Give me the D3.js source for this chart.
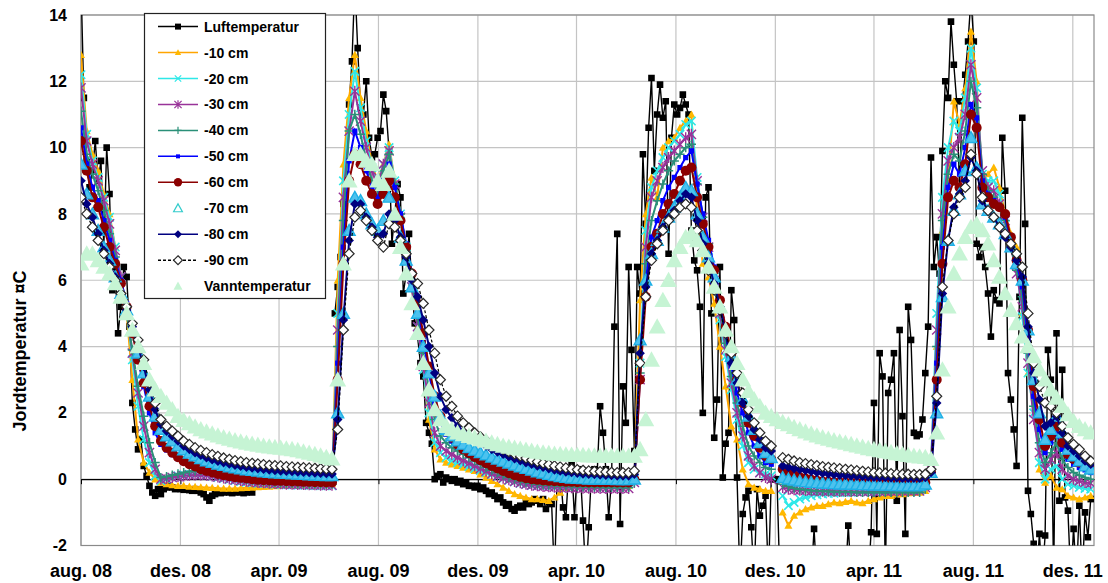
<!DOCTYPE html>
<html><head><meta charset="utf-8">
<script src="https://cdn.jsdelivr.net/npm/d3@7"></script>
<style>
body{margin:0;background:#fff}
svg{display:block}
text{font-family:"Liberation Sans",Arial,sans-serif;font-weight:bold;fill:#000}
</style>
</head><body>
<svg id="c" width="1108" height="583"></svg>
<script>
// ---------- axis data ----------
const startDate = new Date(2008, 7, 1);
const endDate = new Date(2011, 11, 27);
const tickDates = ["2008-08-01","2008-12-01","2009-04-01","2009-08-01","2009-12-01","2010-04-01","2010-08-01","2010-12-01","2011-04-01","2011-08-01","2011-12-01"];
const tickLabels = ["aug. 08","des. 08","apr. 09","aug. 09","des. 09","apr. 10","aug. 10","des. 10","apr. 11","aug. 11","des. 11"];
const yTicks = [-2, 0, 2, 4, 6, 8, 10, 12, 14];
const seriesNames = ["Luftemperatur","-10 cm","-20 cm","-30 cm","-40 cm","-50 cm","-60 cm","-70 cm","-80 cm","-90 cm","Vanntemperatur"];
const yTitle = "Jordtemperatur ¤C";

// ---------- series values ----------
// Luftemperatur: one value every 3.5 days from 1 Aug 2008 (null = missing)
const luft = [
15,11.5,9.6,8.8,9.3,10.2,9.0,9.6,7.0,10.0,
8.6,5.7,6.4,4.4,5.2,6.4,6.1,4.6,2.3,1.5,
0.9,1.2,0.4,0.1,-0.2,-0.4,-0.5,-0.3,-0.45,-0.3,
-0.25,-0.2,-0.25,-0.3,-0.28,-0.3,-0.32,-0.3,-0.33,-0.35,
-0.3,-0.35,-0.4,-0.45,-0.55,-0.65,-0.5,-0.45,-0.4,-0.42,
-0.4,-0.38,-0.4,-0.42,-0.4,-0.38,-0.4,-0.42,-0.4,-0.38,
-0.4,null,null,null,null,null,null,null,null,null,
null,null,null,null,null,null,null,null,null,null,
null,null,null,null,null,null,null,null,null,5.0,
5.8,6.7,8.3,9.2,11.3,12.6,15,13.0,11.2,11.0,
12.0,10.3,9.7,9.8,10.3,10.5,11.6,11.1,9.9,7.1,
8.0,8.9,8.5,5.6,6.2,7.4,5.8,4.7,4.3,3.5,
3.1,1.7,1.4,1.07,0.0,0.1,0.15,-0.1,0.05,0.0,
-0.05,0.0,-0.1,-0.05,-0.15,-0.1,-0.2,-0.2,-0.25,-0.2,
-0.3,-0.25,-0.35,-0.45,-0.4,-0.5,-0.6,-0.55,-0.7,-0.8,
-0.75,-0.9,-0.95,-0.85,-0.8,-0.85,-0.7,-0.75,-0.7,-0.6,
-0.65,-0.75,-0.6,-0.9,-0.7,-0.75,-3,0.3,0.25,-0.85,
-1.15,0.3,0.45,-1.15,0.25,0.3,-1.25,-3,-1.45,0.25,
0.3,0.25,2.2,1.4,0.3,-1.15,0.0,4.6,7.4,-1.35,
2.8,1.7,6.4,3.9,0.85,6.4,5.6,9.8,7.7,10.6,
12.1,9.3,11.0,11.9,10.9,11.4,6.8,10.3,11.3,11.0,
11.2,11.6,11.3,11.0,7.5,6.6,6.3,5.2,2.0,8.5,
8.8,5.0,1.25,2.4,6.4,0.05,1.07,1.4,5.7,4.8,
0.05,-3,-1.05,-0.55,-0.35,-1.45,-3,-0.3,-1.1,-0.8,
-0.5,-3,0,0,0,-3,null,null,null,null,
null,null,null,null,null,null,-3,-1.5,-3,null,
null,null,null,null,null,null,null,null,-3,-1.4,
-3,null,null,null,null,null,-3,-1.6,2.3,-1.65,
3.8,3.1,-3,2.6,3.0,3.8,-0.65,4.5,1.9,-1.65,
5.2,4.2,1.4,1.3,1.35,1.8,3.2,4.6,9.7,6.4,
7.3,6.2,9.9,12.0,11.5,13.8,12.5,11.4,8.8,11.4,
12.2,13.2,14.5,13.2,7.1,6.7,7.0,6.4,5.6,4.3,
5.7,5.4,5.3,10.3,8.7,3.2,2.4,1.5,0.4,5.5,
10.9,7.7,-0.35,-1.05,-1.95,-3,-1.65,-3,-1.7,3.9,
3.0,-3,4.4,-0.65,3.3,-0.55,-0.95,-3,-1.5,-3,
-0.8,-3,-1.0,-1.75,-0.6,null
];

// Soil and water: one value every 7 days from 1 Aug 2008
const soil10 = [
12.8,10.5,9.8,9.3,8.6,8.0,7.0,6.0,5.0,3.0,
1.2,0.5,0.2,0.0,-0.1,-0.15,-0.18,-0.2,-0.2,-0.22,
-0.23,-0.24,-0.25,-0.26,-0.27,-0.28,-0.28,-0.28,-0.27,-0.26,
-0.25,-0.24,-0.23,-0.22,-0.21,-0.2,-0.2,-0.19,-0.19,-0.18,
-0.18,-0.18,-0.17,-0.17,-0.15,
6.0,9.5,11.5,12.8,11.5,10.5,9.5,9.0,9.5,10.1,
9.0,8.0,7.0,5.8,4.6,3.4,1.8,0.9,0.6,0.5,
0.45,0.4,0.35,0.3,0.25,0.15,0.05,-0.05,-0.15,-0.25,
-0.35,-0.45,-0.5,-0.55,-0.6,-0.6,-0.62,-0.65,-0.55,-0.4,
-0.25,-0.2,-0.2,-0.2,-0.2,-0.2,-0.2,-0.2,-0.2,-0.2,
-0.2,-0.2,0.0,
5.4,8.0,9.1,8.5,10.0,10.2,10.3,10.6,10.8,11.0,
8.0,6.5,6.1,5.3,4.0,2.8,1.6,1.2,0.3,-0.15,
-0.25,-0.3,-0.35,-0.35,
null,
-1.0,-1.4,-1.1,-1.0,-0.9,-0.85,-0.8,-0.8,-0.75,-0.7,
-0.72,-0.68,-0.65,-0.7,-0.72,-0.65,-0.6,-0.55,-0.5,-0.5,
-0.45,-0.45,-0.42,-0.4,-0.4,-0.35,
0.5,4.0,7.5,9.0,11.4,10.7,11.8,13.5,12.0,9.0,
9.2,9.4,8.8,8.0,7.4,7.0,5.0,3.2,2.7,0.3,
-0.1,0.1,-0.25,-0.3,-0.5,-0.55,-0.6,-0.55,-0.5
];
const soil20 = [
12.2,10.4,9.6,9.1,8.5,7.9,7.0,6.1,5.1,3.6,
2.2,1.2,0.5,0.1,-0.05,0.0,0.05,0.1,0.13,0.15,
0.15,0.14,0.12,0.09,0.05,0.02,-0.01,-0.04,-0.07,-0.09,
-0.11,-0.12,-0.13,-0.14,-0.15,-0.16,-0.17,-0.17,-0.18,-0.18,
-0.19,-0.19,-0.2,-0.2,-0.2,
5.0,9.0,11.0,12.3,11.2,10.2,9.4,8.9,9.5,10.0,
9.0,8.0,7.0,5.8,4.6,3.3,2.0,1.1,0.8,0.65,
0.56,0.5,0.44,0.38,0.32,0.26,0.2,0.14,0.08,0.02,
-0.03,-0.08,-0.12,-0.15,-0.18,-0.2,-0.2,-0.2,-0.19,-0.18,
-0.17,-0.16,-0.16,-0.15,-0.15,-0.15,-0.15,-0.15,-0.15,-0.15,
-0.15,-0.15,0.0,
3.5,7.5,8.8,9.3,9.7,10.0,10.2,10.4,10.7,10.8,
9.1,7.9,6.9,5.9,4.8,3.7,2.7,1.8,1.0,0.5,
0.3,0.2,0.15,0.1,
null,
-0.5,-0.8,-0.7,-0.6,-0.55,-0.5,-0.47,-0.45,-0.43,-0.42,
-0.4,-0.4,-0.39,-0.38,-0.37,-0.36,-0.36,-0.35,-0.35,-0.34,
-0.33,-0.33,-0.32,-0.32,-0.31,-0.2,
0.4,5.0,8.5,10.0,10.8,10.5,11.5,13.0,11.8,9.2,
9.0,9.0,8.6,7.9,7.2,6.5,4.9,3.2,2.0,0.5,
0.0,0.3,0.4,0.0,-0.15,-0.2,-0.25,-0.28,-0.3
];
const soil30 = [
11.8,10.2,9.5,9.0,8.4,7.7,6.9,6.1,5.1,3.8,
2.6,1.6,0.8,0.3,0.0,0.02,0.05,0.08,0.1,0.12,
0.13,0.13,0.12,0.1,0.07,0.04,0.01,-0.02,-0.04,-0.06,
-0.08,-0.1,-0.11,-0.12,-0.13,-0.14,-0.15,-0.15,-0.16,-0.16,
-0.17,-0.17,-0.18,-0.18,-0.18,
4.5,8.5,10.5,11.7,10.8,10.0,9.3,8.8,9.5,9.9,
8.9,7.9,6.9,5.8,4.6,3.4,2.3,1.4,1.0,0.85,
0.75,0.65,0.56,0.48,0.4,0.32,0.24,0.16,0.09,0.03,
-0.02,-0.07,-0.11,-0.15,-0.18,-0.2,-0.22,-0.23,-0.24,-0.25,
-0.25,-0.26,-0.26,-0.27,-0.27,-0.27,-0.28,-0.28,-0.28,-0.28,
-0.28,-0.28,-0.1,
3.0,7.0,8.5,9.0,9.4,9.7,9.9,10.1,10.3,10.4,
9.0,7.9,7.0,6.0,5.0,3.9,2.9,2.0,1.3,0.7,
0.4,0.2,0.05,0.0,
null,
-0.25,-0.3,-0.32,-0.33,-0.34,-0.35,-0.35,-0.36,-0.36,-0.36,
-0.37,-0.37,-0.37,-0.37,-0.37,-0.37,-0.37,-0.37,-0.36,-0.36,
-0.36,-0.36,-0.35,-0.35,-0.35,-0.25,
0.3,4.5,8.0,9.6,10.0,10.3,11.0,12.5,11.5,9.3,
8.8,8.7,8.3,7.8,7.0,6.2,5.2,3.5,1.8,0.8,
0.3,0.6,0.8,0.3,0.1,0.0,-0.05,-0.1,-0.12
];
const soil40 = [
11.1,9.8,9.2,8.7,8.1,7.4,6.7,5.9,5.0,3.9,
2.8,1.9,1.1,0.5,0.05,0.08,0.12,0.16,0.2,0.23,
0.25,0.26,0.25,0.22,0.18,0.14,0.1,0.06,0.03,0.0,
-0.02,-0.04,-0.06,-0.08,-0.1,-0.11,-0.12,-0.13,-0.14,-0.14,
-0.15,-0.15,-0.16,-0.16,-0.15,
4.0,7.8,10.5,11.0,10.4,9.6,9.0,8.7,9.3,9.8,
8.9,8.0,7.0,6.0,4.9,3.8,2.7,1.8,1.3,1.1,
0.95,0.85,0.75,0.65,0.55,0.45,0.35,0.27,0.2,0.12,
0.05,0.0,-0.05,-0.1,-0.12,-0.15,-0.17,-0.18,-0.19,-0.2,
-0.21,-0.22,-0.22,-0.23,-0.23,-0.24,-0.24,-0.25,-0.25,-0.25,
-0.25,-0.25,-0.1,
3.2,6.5,7.8,8.4,8.9,9.3,9.6,9.8,10.0,10.1,
8.9,7.9,7.1,6.2,5.2,4.1,3.1,2.3,1.6,1.0,
0.7,0.5,0.35,0.3,
null,
-0.15,-0.22,-0.27,-0.3,-0.32,-0.34,-0.35,-0.36,-0.37,-0.38,
-0.38,-0.39,-0.39,-0.4,-0.4,-0.4,-0.4,-0.4,-0.4,-0.4,
-0.4,-0.4,-0.4,-0.4,-0.4,-0.3,
0.2,4.0,7.8,9.2,9.8,9.6,10.5,12.0,11.2,9.2,
8.7,8.5,8.2,7.8,7.0,6.3,5.5,3.8,2.2,1.1,
0.5,0.8,1.1,0.6,0.35,0.2,0.12,0.05,0.0
];
const soil50 = [
10.6,9.5,8.8,8.4,7.8,7.2,6.6,6.0,5.3,4.5,
3.6,2.8,2.0,1.4,1.05,0.88,0.74,0.62,0.5,0.41,
0.34,0.27,0.22,0.17,0.13,0.09,0.06,0.03,0.01,-0.01,
-0.03,-0.04,-0.05,-0.06,-0.07,-0.08,-0.08,-0.09,-0.1,-0.1,
-0.11,-0.11,-0.12,-0.12,-0.12,
3.5,7.0,9.6,10.5,10.0,9.3,8.8,8.5,9.0,9.5,
8.8,8.0,7.1,6.2,5.2,4.2,3.2,2.3,1.7,1.35,
1.15,0.98,0.84,0.72,0.62,0.52,0.43,0.35,0.28,0.21,
0.14,0.09,0.04,0.0,-0.03,-0.05,-0.07,-0.08,-0.09,-0.1,
-0.11,-0.11,-0.12,-0.12,-0.12,-0.13,-0.13,-0.13,-0.13,-0.13,
-0.13,-0.13,0.0,
3.5,6.0,7.3,7.8,8.4,8.8,9.1,9.4,9.7,9.9,
8.9,8.0,7.2,6.4,5.4,4.4,3.4,2.6,2.0,1.4,
1.0,0.7,0.5,0.45,
null,
0.15,0.08,0.02,-0.02,-0.05,-0.08,-0.1,-0.11,-0.12,-0.13,
-0.14,-0.14,-0.15,-0.15,-0.16,-0.16,-0.17,-0.17,-0.17,-0.18,
-0.18,-0.18,-0.18,-0.18,-0.18,-0.12,
0.3,3.5,7.0,8.8,9.5,9.2,10.0,11.3,10.9,9.0,
8.6,8.4,8.2,7.9,7.2,6.5,5.8,4.2,2.5,1.5,
0.8,1.1,1.4,0.9,0.6,0.45,0.35,0.28,0.2
];
const soil60 = [
10.2,9.3,8.5,8.2,7.6,7.0,6.5,5.9,5.2,4.4,
3.6,2.9,2.2,1.6,1.15,0.95,0.8,0.66,0.54,0.45,
0.38,0.3,0.25,0.2,0.16,0.12,0.09,0.06,0.04,0.02,
0.0,-0.02,-0.03,-0.04,-0.05,-0.05,-0.06,-0.07,-0.07,-0.08,
-0.08,-0.09,-0.09,-0.1,-0.1,
3.0,6.5,9.0,9.8,9.5,9.0,8.6,8.3,8.6,9.0,
8.5,7.8,7.0,6.2,5.3,4.4,3.4,2.5,1.9,1.5,
1.25,1.05,0.9,0.78,0.67,0.57,0.48,0.4,0.32,0.25,
0.18,0.12,0.07,0.03,0.0,-0.02,-0.04,-0.05,-0.06,-0.07,
-0.08,-0.08,-0.09,-0.09,-0.1,-0.1,-0.1,-0.1,-0.1,-0.1,
-0.1,-0.1,0.0,
3.0,5.5,7.0,7.4,8.0,8.3,8.6,9.0,9.3,9.4,
8.5,7.7,7.0,6.3,5.4,4.6,3.8,3.0,2.3,1.7,
1.3,0.95,0.7,0.6,
null,
0.3,0.2,0.12,0.06,0.02,-0.02,-0.05,-0.07,-0.08,-0.09,
-0.1,-0.1,-0.11,-0.11,-0.12,-0.12,-0.12,-0.13,-0.13,-0.13,
-0.14,-0.14,-0.14,-0.15,-0.15,-0.1,
0.2,3.0,6.5,8.5,9.0,8.8,9.5,11.0,10.6,8.8,
8.5,8.3,8.2,8.0,7.3,6.6,6.0,4.5,2.8,1.8,
1.0,1.3,1.6,1.1,0.75,0.6,0.5,0.4,0.3
];
const soil70 = [
9.5,8.6,8.0,7.5,7.0,6.6,6.1,5.6,5.1,4.5,
3.8,3.2,2.5,1.9,1.5,1.3,1.15,1.0,0.88,0.78,
0.7,0.62,0.55,0.5,0.45,0.41,0.37,0.34,0.31,0.28,
0.26,0.24,0.22,0.2,0.19,0.18,0.17,0.16,0.15,0.14,
0.13,0.12,0.11,0.1,0.1,
2.0,5.0,7.5,8.5,8.4,8.0,7.7,7.5,7.8,8.5,
8.0,7.3,6.6,5.8,5.0,4.0,3.2,2.5,1.9,1.5,
1.3,1.15,1.05,0.95,0.87,0.8,0.73,0.66,0.6,0.54,
0.48,0.42,0.37,0.32,0.27,0.22,0.18,0.14,0.1,0.07,
0.05,0.03,0.02,0.01,0.0,0.0,0.0,-0.01,-0.01,-0.02,
-0.02,-0.02,0.0,
4.2,6.0,6.8,7.2,7.6,7.9,8.2,8.5,8.8,8.7,
8.0,7.3,6.7,6.1,5.2,4.5,3.7,3.0,2.4,1.9,
1.5,1.1,0.8,0.65,
null,
0.05,0.0,-0.03,-0.06,-0.08,-0.1,-0.11,-0.12,-0.13,-0.14,
-0.15,-0.15,-0.16,-0.16,-0.17,-0.17,-0.18,-0.18,-0.19,-0.19,
-0.2,-0.2,-0.2,-0.2,-0.2,-0.15,
0.2,2.0,5.5,7.2,8.1,8.6,9.3,10.3,9.4,8.3,
8.1,7.9,7.7,7.4,7.0,6.5,6.0,4.5,3.0,2.0,
1.2,1.5,1.9,1.4,0.9,0.7,0.55,0.4,0.3
];
const soil80 = [
9.0,8.3,7.9,7.4,6.9,6.5,6.1,5.6,5.1,4.6,
4.0,3.4,2.7,2.1,1.65,1.45,1.3,1.15,1.0,0.9,
0.8,0.72,0.65,0.59,0.54,0.5,0.46,0.42,0.39,0.36,
0.34,0.32,0.3,0.28,0.26,0.25,0.24,0.23,0.22,0.21,
0.2,0.19,0.18,0.17,0.16,
1.8,4.8,7.2,8.3,8.3,7.9,7.6,7.3,7.4,8.0,
7.8,7.3,6.7,6.0,5.5,4.8,4.0,3.2,2.5,2.1,
1.85,1.6,1.45,1.32,1.2,1.1,1.0,0.9,0.82,0.75,
0.68,0.62,0.56,0.5,0.45,0.4,0.36,0.32,0.28,0.25,
0.22,0.2,0.18,0.16,0.15,0.14,0.13,0.12,0.11,0.1,
0.1,0.1,0.15,
3.8,5.8,6.8,7.2,7.6,7.9,8.1,8.4,8.6,8.5,
7.8,7.1,6.5,5.9,5.2,4.4,3.5,2.9,2.3,1.9,
1.5,1.2,0.95,0.85,
null,
0.4,0.36,0.32,0.29,0.26,0.23,0.2,0.18,0.16,0.14,
0.12,0.11,0.1,0.09,0.08,0.07,0.06,0.05,0.05,0.04,
0.04,0.03,0.03,0.03,0.03,0.05,
0.2,2.3,5.6,7.2,8.2,8.6,9.0,9.7,9.3,8.4,
8.1,7.9,7.6,7.3,7.0,6.6,6.1,4.6,3.2,2.4,
1.6,1.7,1.9,1.4,1.0,0.85,0.7,0.55,0.45
];
const soil90 = [
8.5,8.0,7.6,7.2,6.8,6.4,6.0,5.6,5.2,4.7,
4.2,3.6,2.9,2.3,1.8,1.6,1.45,1.3,1.15,1.05,
0.95,0.87,0.8,0.74,0.69,0.64,0.6,0.56,0.53,0.5,
0.48,0.46,0.44,0.42,0.41,0.4,0.38,0.37,0.36,0.35,
0.34,0.33,0.32,0.31,0.3,
1.5,4.5,6.8,7.9,8.1,7.8,7.5,7.2,7.0,7.7,
7.6,7.2,6.8,6.2,5.9,5.3,4.5,3.8,3.0,2.5,
2.2,1.9,1.7,1.55,1.4,1.28,1.17,1.07,0.98,0.9,
0.83,0.76,0.7,0.64,0.58,0.53,0.48,0.44,0.4,0.37,
0.34,0.31,0.29,0.27,0.25,0.24,0.23,0.22,0.21,0.2,
0.2,0.2,0.25,
3.5,5.5,6.6,7.1,7.5,7.8,8.0,8.2,8.3,8.2,
7.5,6.9,6.3,5.7,5.1,4.4,3.8,3.2,2.6,2.1,
1.7,1.4,1.15,1.0,
null,
0.65,0.6,0.55,0.5,0.47,0.44,0.41,0.38,0.36,0.34,
0.32,0.3,0.28,0.26,0.24,0.22,0.2,0.19,0.18,0.17,
0.16,0.15,0.15,0.14,0.14,0.15,
0.3,2.5,5.8,7.2,8.0,8.5,8.8,9.8,9.2,8.5,
8.1,7.9,7.6,7.4,7.1,6.8,6.4,5.0,3.5,2.8,
2.3,2.2,2.0,1.6,1.25,1.05,0.9,0.7,0.55
];
const vann = [
6.5,6.8,6.8,6.6,6.4,6.2,5.9,5.5,5.0,4.5,
4.0,3.5,3.0,2.7,2.5,2.3,2.1,1.9,1.78,1.68,
1.58,1.5,1.43,1.37,1.31,1.26,1.21,1.17,1.13,1.09,
1.06,1.03,1.0,0.98,0.96,0.94,0.92,0.9,0.87,0.83,
0.79,0.75,0.71,0.66,0.62,
3.0,6.5,9.0,9.8,9.8,9.6,9.5,9.0,8.9,9.3,
8.0,7.0,6.2,5.3,4.4,3.5,2.7,2.1,1.8,1.6,
1.5,1.4,1.35,1.3,1.25,1.2,1.15,1.1,1.05,1.0,
0.97,0.94,0.91,0.88,0.85,0.82,0.8,0.78,0.76,0.75,
0.74,0.73,0.72,0.72,0.71,0.71,0.7,0.7,0.7,0.7,
0.7,0.7,0.7,
0.9,1.8,3.6,4.6,5.4,6.0,6.6,7.0,7.3,7.4,
7.2,6.9,6.4,5.8,5.2,4.5,4.0,3.5,3.0,2.65,
2.4,2.2,2.0,1.9,
1.8,
1.72,1.65,1.57,1.5,1.43,1.37,1.31,1.26,1.21,1.17,
1.13,1.09,1.05,1.01,0.97,0.93,0.9,0.87,0.84,0.81,
0.78,0.75,0.72,0.7,0.68,0.66,
0.6,1.4,3.3,5.2,6.2,6.8,7.3,7.6,7.7,7.5,
7.1,6.6,6.1,5.6,5.1,4.7,4.3,4.0,3.7,3.3,
3.0,2.7,2.45,2.2,1.95,1.75,1.6,1.5,1.4
];

// ---------- layout / styles ----------
const W = 1108, H = 583;
const M = {left: 81, right: 1094, top: 15, bottom: 545.5};
// step = hours between samples
const styles = [
  {data: luft, step: 84, line: "#000", lw: 1.4, mk: "square", ms: 3.3, lms: 3, fill: "#000", stroke: "none"},
  {data: soil10, step: 168, line: "#FFA500", lw: 2, mk: "triangle", ms: 4, lms: 3.2, fill: "#FFB800", stroke: "none"},
  {data: soil20, step: 168, line: "#2EE8E8", lw: 2, mk: "x", ms: 4.2, lms: 3.2, fill: "none", stroke: "#2EE8E8", sw: 1.6},
  {data: soil30, step: 168, line: "#993399", lw: 2, mk: "asterisk", ms: 4.6, lms: 3.6, fill: "none", stroke: "#993399", sw: 1.4},
  {data: soil40, step: 168, line: "#2A9078", lw: 2, mk: "plus", ms: 4.6, lms: 3.6, fill: "none", stroke: "#2A9078", sw: 1.5},
  {data: soil50, step: 168, line: "#0000FF", lw: 2, mk: "square", ms: 2.6, lms: 2, fill: "#0000FF", stroke: "none"},
  {data: soil60, step: 168, line: "#8B0000", lw: 2, mk: "circle", ms: 5, lms: 4.2, fill: "#8B0000", stroke: "none"},
  {data: soil70, step: 168, line: null, mk: "triangle", ms: 6, lms: 4.4, fill: "#4CC2EE", stroke: "#1EB0E6", sw: 1.4, lfill: "#fff", lstroke: "#33CCCC"},
  {data: soil80, step: 168, line: "#000080", lw: 2, mk: "diamond", ms: 4.8, lms: 4, fill: "#000080", stroke: "none"},
  {data: soil90, step: 168, line: "#000", lw: 1.2, dash: "3,2", mk: "diamond", ms: 5, lms: 4.4, fill: "#fff", stroke: "#2a2a2a", sw: 1.2},
  {data: vann, step: 168, line: null, mk: "triangle", ms: 8.5, lms: 4.5, fill: "#C6F4D4", stroke: "none"}
];

function markerPath(type, s) {
  switch (type) {
    case "square": return `M${-s},${-s}H${s}V${s}H${-s}Z`;
    case "triangle": return `M0,${-s}L${s},${s*0.8}L${-s},${s*0.8}Z`;
    case "x": return `M${-s},${-s}L${s},${s}M${-s},${s}L${s},${-s}`;
    case "asterisk": return `M${-s},${-s}L${s},${s}M${-s},${s}L${s},${-s}M0,${-s*1.2}V${s*1.2}`;
    case "plus": return `M${-s},0H${s}M0,${-s}V${s}`;
    case "circle": return `M${s},0A${s},${s} 0 1,1 ${-s},0A${s},${s} 0 1,1 ${s},0Z`;
    case "diamond": return `M0,${-s}L${s},0L0,${s}L${-s},0Z`;
  }
}

const parse = d3.timeParse("%Y-%m-%d");
const x = d3.scaleTime().domain([startDate, endDate]).range([M.left, M.right]);
const y = d3.scaleLinear().domain([-2, 14]).range([M.bottom, M.top]);

const svg = d3.select("#c");
svg.append("rect").attr("width", W).attr("height", H).attr("fill", "#fff");
svg.append("defs").append("clipPath").attr("id", "clip")
  .append("rect").attr("x", M.left).attr("y", M.top)
  .attr("width", M.right - M.left).attr("height", M.bottom - M.top);

// gridlines
const grid = svg.append("g");
grid.selectAll("line.h").data(yTicks).join("line")
  .attr("x1", M.left).attr("x2", M.right)
  .attr("y1", d => y(d)).attr("y2", d => y(d))
  .attr("stroke", "#c4c4c4").attr("stroke-width", 1.2);
grid.selectAll("line.v").data(tickDates).join("line")
  .attr("x1", d => x(parse(d))).attr("x2", d => x(parse(d)))
  .attr("y1", M.top).attr("y2", M.bottom)
  .attr("stroke", "#c4c4c4").attr("stroke-width", 1.2);
svg.append("rect").attr("x", M.left).attr("y", M.top)
  .attr("width", M.right - M.left).attr("height", M.bottom - M.top)
  .attr("fill", "none").attr("stroke", "#8a8a8a").attr("stroke-width", 1.2);

// zero axis with ticks
const xAxis = d3.axisBottom(x).tickValues(tickDates.map(parse)).tickFormat("").tickSize(5).tickSizeOuter(0);
const zAx = svg.append("g").attr("transform", `translate(0,${y(0)})`).call(xAxis);
zAx.select(".domain").attr("stroke", "#000").attr("stroke-width", 1.2);
zAx.selectAll(".tick line").attr("stroke", "#000");

// series
const plot = svg.append("g").attr("clip-path", "url(#clip)");
styles.forEach((st) => {
  const pts = st.data.map((v, k) => ({t: d3.timeHour.offset(startDate, st.step * k), v}));
  const g = plot.append("g");
  if (st.line) {
    g.append("path").datum(pts)
      .attr("fill", "none").attr("stroke", st.line).attr("stroke-width", st.lw)
      .attr("stroke-dasharray", st.dash || null)
      .attr("d", d3.line().defined(d => d.v != null).x(d => x(d.t)).y(d => y(d.v)));
  }
  g.selectAll("path.m").data(pts.filter(p => p.v != null)).join("path")
    .attr("class", "m")
    .attr("transform", d => `translate(${x(d.t)},${y(d.v)})`)
    .attr("d", markerPath(st.mk, st.ms))
    .attr("fill", st.fill).attr("stroke", st.stroke).attr("stroke-width", st.sw || 1);
});

// y tick labels
svg.append("g").selectAll("text").data(yTicks).join("text")
  .attr("x", 67).attr("y", d => y(d) + 5.6)
  .attr("text-anchor", "end").attr("font-size", 16).text(d => d);
// x tick labels
svg.append("g").selectAll("text").data(tickDates).join("text")
  .attr("x", d => x(parse(d))).attr("y", 577)
  .attr("text-anchor", "middle").attr("font-size", 18)
  .text((d, i) => tickLabels[i]);
// y title
svg.append("text").attr("transform", "translate(26,351) rotate(-90)")
  .attr("text-anchor", "middle").attr("font-size", 18).text(yTitle);

// legend
const lg = svg.append("g");
lg.append("rect").attr("x", 144.5).attr("y", 13.5).attr("width", 181).attr("height", 285)
  .attr("fill", "#fff").attr("stroke", "#222").attr("stroke-width", 1.2);
styles.forEach((st, i) => {
  const cy = 26.6 + 25.95 * i;
  if (st.line) {
    lg.append("line").attr("x1", 158).attr("x2", 198).attr("y1", cy).attr("y2", cy)
      .attr("stroke", st.line).attr("stroke-width", 1.5).attr("stroke-dasharray", st.dash || null);
  }
  lg.append("path").attr("transform", `translate(178,${cy})`)
    .attr("d", markerPath(st.mk, st.lms))
    .attr("fill", st.lfill || st.fill).attr("stroke", st.lstroke || st.stroke).attr("stroke-width", 1.2);
  lg.append("text").attr("x", 204).attr("y", cy + 5).attr("font-size", 14).text(seriesNames[i]);
});

const lens = styles.map(s => s.data.length);
if (luft.length !== 356 || lens.slice(1).some(l => l !== 178)) {
  throw new Error("length mismatch: " + lens.join(","));
}
</script>
</body></html>
